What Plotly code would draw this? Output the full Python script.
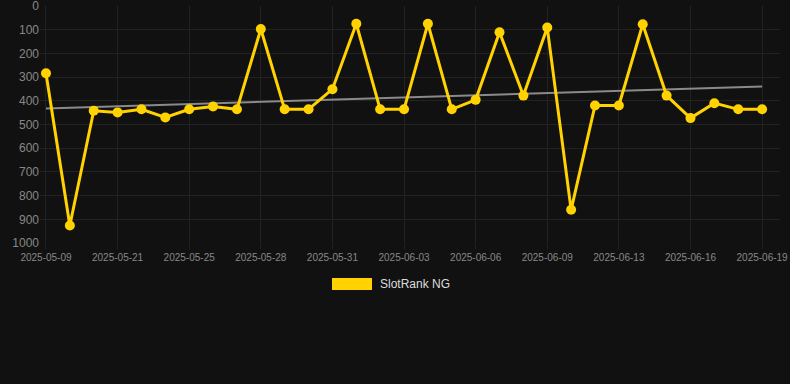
import numpy as np
import plotly.graph_objects as go

dates = ["2025-05-09", "2025-05-10", "2025-05-20", "2025-05-21", "2025-05-22", "2025-05-23",
         "2025-05-25", "2025-05-26", "2025-05-27", "2025-05-28", "2025-05-29", "2025-05-30",
         "2025-05-31", "2025-06-01", "2025-06-02", "2025-06-03", "2025-06-04", "2025-06-05",
         "2025-06-06", "2025-06-07", "2025-06-08", "2025-06-09", "2025-06-11", "2025-06-12",
         "2025-06-13", "2025-06-14", "2025-06-15", "2025-06-16", "2025-06-17", "2025-06-18",
         "2025-06-19"]
ranks = [284, 926, 442, 449, 436, 470, 436, 424, 436, 97, 436, 436, 351, 75, 436, 436,
         75, 436, 396, 111, 378, 91, 860, 420, 420, 77, 378, 473, 410, 436, 436]
tick_labels = dates[::3]
y_ticks = [0, 100, 200, 300, 400, 500, 600, 700, 800, 900, 1000]

idx = np.arange(len(ranks))
slope, intercept = np.polyfit(idx, ranks, 1)
trend = slope * idx + intercept

GOLD = "#FFD200"
fig = go.Figure()
fig.add_trace(go.Scatter(x=dates, y=trend, mode="lines",
                         line=dict(color="#8a8a8a", width=2), showlegend=False, hoverinfo="skip"))
fig.add_trace(go.Scatter(x=dates, y=ranks, mode="lines+markers", name="SlotRank NG",
                         line=dict(color=GOLD, width=3),
                         marker=dict(color=GOLD, size=10), showlegend=False))

fig.update_layout(
    width=790, height=384,
    paper_bgcolor="#111111", plot_bgcolor="#111111",
    margin=dict(l=40, r=10, t=6, b=141, autoexpand=False),
    font=dict(family="Liberation Sans, Arial, sans-serif", color="#888888"),
    xaxis=dict(type="category", categoryorder="array", categoryarray=dates,
               range=[-0.25, 30.75], tickmode="array", tickvals=tick_labels, ticktext=tick_labels,
               tickfont=dict(size=10, color="#888888"), showgrid=True, gridcolor="#222222",
               gridwidth=1, zeroline=False, showline=False, ticks="outside", ticklen=5,
               tickcolor="#222222", ticklabeloverflow="allow", automargin=False),
    yaxis=dict(range=[1000, 0], tickvals=y_ticks, tickfont=dict(size=12, color="#888888"),
               showgrid=True, gridcolor="#222222", gridwidth=1, zeroline=False, showline=False,
               ticklabeloverflow="allow", automargin=False),
    shapes=[dict(type="rect", xref="paper", yref="paper",
                 x0=(332 - 40) / 740, x1=(372 - 40) / 740,
                 y0=(243 - 290) / 237, y1=(243 - 278) / 237,
                 fillcolor=GOLD, line=dict(width=0))],
    annotations=[dict(text="SlotRank NG", xref="paper", yref="paper",
                      x=(378 - 40) / 740, y=(243 - 284) / 237, xanchor="left", yanchor="middle",
                      showarrow=False, font=dict(size=12, color="#dddddd"))],
)
fig.write_html("out.html", config={"displayModeBar": False},
               post_script="document.body.style.margin='0';document.body.style.background='#111111';")
